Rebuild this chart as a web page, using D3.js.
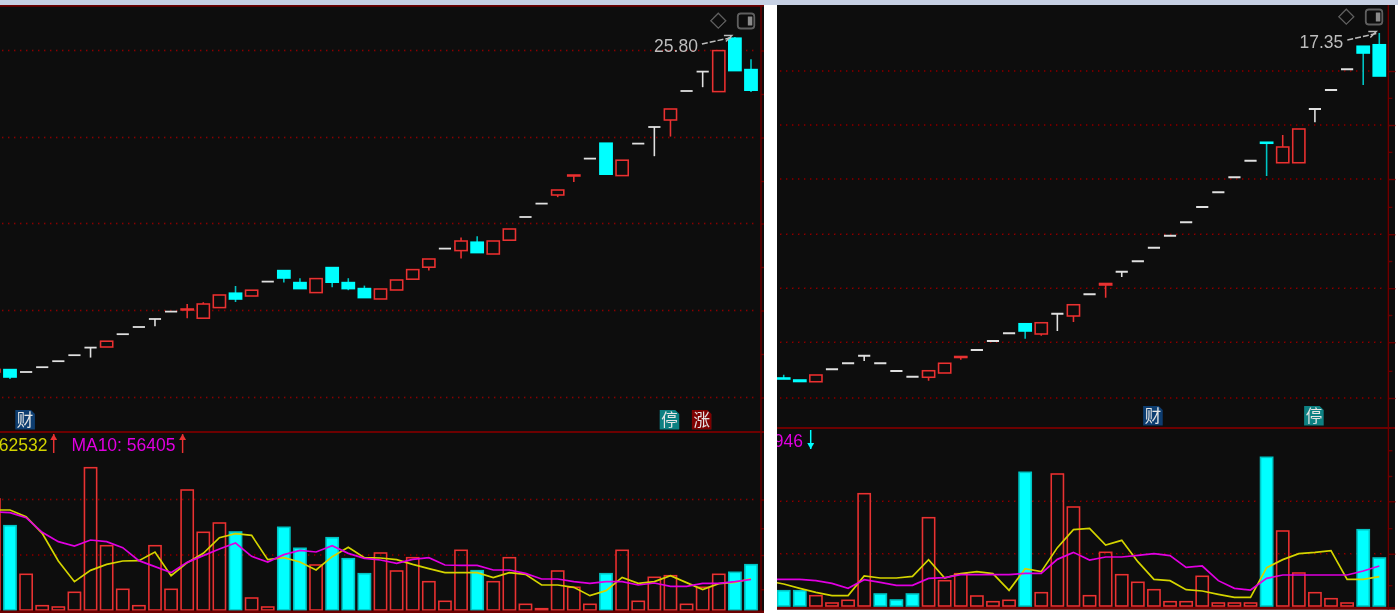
<!DOCTYPE html>
<html>
<head>
<meta charset="utf-8">
<script src="https://cdn.jsdelivr.net/npm/d3@7"></script>
<style>
  html, body { margin: 0; padding: 0; background: #fff; overflow: hidden; }
  svg { display: block; }
</style>
</head>
<body>
<div id="chart"></div>
<script>
const W = 1398, H = 613;

// left chart, days -1 .. 46
const leftOpen = [9.05,9.17,9.05,9.29,9.59,9.89,10.27,10.30,10.94,11.30,11.70,12.07,12.15,11.74,12.27,12.99,12.85,13.57,14.12,13.52,13.02,14.27,13.52,13.22,12.70,13.15,13.69,14.29,15.22,15.12,15.54,14.95,15.64,16.80,17.47,17.90,18.85,19.72,20.49,18.87,20.47,21.30,21.65,23.10,24.07,23.07,25.74,24.17];
const leftClose = [9.18,8.80,9.05,9.29,9.59,9.89,10.27,10.59,10.94,11.30,11.70,12.07,12.20,12.45,12.90,12.70,13.14,13.57,13.75,13.22,13.72,13.54,13.22,12.77,13.20,13.65,14.17,14.70,15.22,15.60,15.02,15.60,16.20,16.80,17.47,18.15,18.90,19.72,18.94,19.64,20.47,21.30,22.20,23.10,24.07,25.12,24.12,23.14];
const leftHigh = [9.18,9.17,9.05,9.29,9.59,9.89,10.27,10.59,10.94,11.30,11.70,12.07,12.45,12.54,12.90,13.35,13.14,13.57,14.12,13.74,13.72,14.27,13.74,13.37,13.20,13.65,14.17,14.70,15.22,15.77,15.84,15.60,16.20,16.80,17.47,18.15,18.90,19.72,20.49,19.64,20.47,21.30,22.20,23.10,24.07,25.12,25.80,24.69];
const leftLow = [9.05,8.70,9.05,9.29,9.59,9.89,9.77,10.30,10.94,11.30,11.34,12.07,11.74,11.74,12.27,12.55,12.85,13.57,13.52,13.22,13.02,13.29,13.14,12.77,12.70,13.15,13.69,14.12,15.22,14.72,15.02,14.95,15.64,16.80,17.47,17.79,18.55,19.72,18.94,18.87,20.47,19.84,20.82,23.10,23.29,23.07,24.12,23.05];
const leftVol = [222000,168600,71400,8600,6000,35400,284600,128600,41400,8600,128600,41400,240000,155400,174000,156000,24000,6000,165400,123400,90000,144600,102600,72600,114000,78000,104600,56600,17400,119400,78600,56600,104600,11400,2600,78000,45400,11400,72600,119400,17400,65400,68600,11400,45400,71400,75400,90600];
const leftMa5 = [200000,200000,186700,153300,98000,56700,79300,91300,98000,98700,116000,68700,94700,113300,144700,152700,149300,100700,104700,96000,80000,106700,125300,104700,104000,100700,91300,82700,74700,74700,74700,64700,74700,71300,50000,50000,45300,28700,38700,65300,53300,56700,68700,54700,40700,52700,55300,62532];
const leftMa10 = [196700,194700,184700,155300,136700,128000,140000,136700,124700,98700,86700,74700,95300,108700,122000,134000,107300,96000,110700,119300,116000,128700,113300,103300,100000,93300,101300,104700,90000,89300,89300,80000,80000,73300,62000,62000,56700,53300,56700,56700,50000,54000,47300,47300,53300,53300,56700,61000];

// right chart, days 0 .. 37 (the average lines start one day earlier)
const rightOpen = [3.55,3.47,3.40,3.90,4.14,4.44,4.14,3.83,3.60,3.58,3.75,4.37,4.67,5.03,5.34,5.72,5.31,6.12,6.03,6.90,7.27,7.80,8.22,8.76,9.24,9.78,10.39,10.98,11.58,12.24,12.98,12.16,12.16,14.31,15.07,15.90,16.82,16.88];
const rightClose = [3.51,3.41,3.67,3.90,4.14,4.44,4.14,3.83,3.60,3.84,4.14,4.41,4.67,5.03,5.34,5.43,5.76,6.12,6.48,6.90,7.33,7.80,8.22,8.76,9.24,9.78,10.39,10.98,11.58,12.24,12.94,12.79,13.51,14.31,15.07,15.90,16.55,15.63];
const rightHigh = [3.68,3.47,3.67,3.90,4.14,4.44,4.14,3.83,3.60,3.84,4.14,4.41,4.67,5.03,5.34,5.72,5.76,6.12,6.48,6.90,7.33,7.80,8.22,8.76,9.24,9.78,10.39,10.98,11.58,12.24,12.98,13.27,13.51,14.31,15.07,15.90,16.82,17.35];
const rightLow = [3.51,3.41,3.40,3.90,4.14,4.23,4.14,3.83,3.60,3.44,3.75,4.28,4.67,5.03,5.34,5.12,5.24,5.43,5.79,6.90,6.76,7.59,8.22,8.76,9.24,9.78,10.39,10.98,11.58,12.24,11.63,12.16,12.16,13.78,15.07,15.90,15.27,15.63];
const rightVol = [30600,30600,20600,6000,11400,224600,24000,12000,24000,176600,50600,64600,20000,8600,11400,267400,26600,264000,198000,20600,107400,62600,47400,32600,8600,8600,59400,6000,6000,6000,297400,150000,66000,26600,14600,6000,152600,96000];
const rightMa5 = [50000,44000,35300,27300,20700,20700,60000,56000,56000,59300,92700,56000,64700,68700,64700,31300,74700,68700,116700,152700,155300,122000,131300,88700,53300,50700,32700,30000,23300,17300,17300,76700,92700,104700,107300,110700,53300,53300,58700];
const rightMa10 = [53300,53300,53300,50700,45300,35300,52700,47300,41300,41300,55300,56700,62700,62700,62700,62700,65300,65300,93300,107300,92000,98000,98000,101300,104700,100700,77300,80000,50700,35300,32000,55300,62000,62000,62000,62000,62000,70000,80000];

// gridline and tick levels
const leftPriceGrid = [25.125,20.775,16.475,12.125,7.775];
const leftPriceMinor = [22.95,18.6,14.3,9.95];
const leftVolGrid = [221000,110000];
const leftVolMinor = [163400,41400];
const rightPriceGrid = [15.83,13.67,11.51,9.30,7.14,4.98,2.75];
const rightPriceMinor = [14.76,12.60,10.40,8.23,6.07,3.84];
const rightVolGrid = [209400,104600];
const rightVolMinor = [311400,260000,155400,41400];

const RED = "#e83030", CYAN = "#00ffff", TEAL = "#00c4c4", WHITE = "#e0e0e0",
      GRID = "#8a0000", FRAME = "#6c0000", YELLOW = "#d4d400", MAGENTA = "#e000e0",
      BG = "#0b0b0b", ICON = "#5f5f5f", NOTE = "#bdbdbd";

const svg = d3.select("#chart").append("svg")
  .attr("width", W)
  .attr("height", H)
  .style("font-family", "'Liberation Sans', sans-serif");

const defs = svg.append("defs");

// the source is a slightly resampled screenshot, so everything is a touch soft
defs.append("filter")
  .attr("id", "soft")
  .attr("filterUnits", "userSpaceOnUse")
  .attr("x", 0).attr("y", 0)
  .attr("width", W).attr("height", H)
  .append("feGaussianBlur")
  .attr("stdDeviation", 0.3);

const root = svg.append("g").attr("filter", "url(#soft)");

root.append("rect").attr("width", W).attr("height", H).attr("fill", "#fff");
root.append("rect").attr("width", W).attr("height", 5).attr("fill", "#c6d0e3");

function drawPanel(p) {
  const candles = p.open.map((o, i) => ({
    day: p.firstDay + i,
    open: o, close: p.close[i], high: p.high[i], low: p.low[i], vol: p.vol[i],
    prev: i > 0 ? p.close[i - 1] : o
  }));

  const x = d3.scaleLinear().domain(p.days).range(p.xRange);
  const yPrice = d3.scaleLinear().domain(p.priceDomain).range([p.split, 6]);
  const yVol = d3.scaleLinear().domain([0, (p.base - p.split) * 2000]).range([p.base, p.split]);

  const clipId = "clip-" + p.name;
  defs.append("clipPath").attr("id", clipId).append("rect")
    .attr("x", p.left).attr("y", 5)
    .attr("width", p.frameX - p.left).attr("height", H - 5);

  root.append("rect")
    .attr("x", p.left).attr("y", 5)
    .attr("width", p.right - p.left).attr("height", p.bottom - 5)
    .attr("fill", BG);

  const g = root.append("g").attr("clip-path", `url(#${clipId})`);

  // dotted gridlines
  const gridLine = (sel, scale, values) => sel.selectAll(null)
    .data(values)
    .enter()
    .append("line")
    .attr("x1", p.gridRange[0])
    .attr("x2", p.gridRange[1])
    .attr("y1", d => scale(d))
    .attr("y2", d => scale(d))
    .attr("stroke", GRID)
    .attr("stroke-width", 1.5)
    .attr("stroke-dasharray", "1.5 4.5");

  gridLine(g.append("g"), yPrice, p.priceGrid);
  gridLine(g.append("g"), yVol, p.volGrid);

  // candles
  const bodyW = 12.2;
  const isUp = d => d.close > d.open;
  const isDown = d => d.close < d.open;
  const candleColor = d => isUp(d) ? RED : isDown(d) ? TEAL : WHITE;

  const candle = g.append("g").selectAll("g")
    .data(candles)
    .enter()
    .append("g");

  candle.filter(d => d.high > d.low)
    .append("line")
    .attr("x1", d => x(d.day))
    .attr("x2", d => x(d.day))
    .attr("y1", d => yPrice(d.high))
    .attr("y2", d => yPrice(d.low))
    .attr("stroke", candleColor)
    .attr("stroke-width", 1.6);

  candle.filter(d => d.open !== d.close)
    .append("rect")
    .attr("x", d => x(d.day) - bodyW / 2)
    .attr("y", d => yPrice(Math.max(d.open, d.close)))
    .attr("width", bodyW)
    .attr("height", d => Math.abs(yPrice(d.open) - yPrice(d.close)))
    .attr("fill", d => isDown(d) ? CYAN : BG)
    .attr("stroke", d => isDown(d) ? CYAN : RED)
    .attr("stroke-width", 1.6);

  candle.filter(d => d.open === d.close)
    .append("line")
    .attr("x1", d => x(d.day) - bodyW / 2)
    .attr("x2", d => x(d.day) + bodyW / 2)
    .attr("y1", d => yPrice(d.close))
    .attr("y2", d => yPrice(d.close))
    .attr("stroke", WHITE)
    .attr("stroke-width", 1.8);

  // volume bars
  const volDown = d => isDown(d) || (d.open === d.close && d.close < d.prev);

  g.append("g").selectAll("rect")
    .data(candles)
    .enter()
    .append("rect")
    .attr("x", d => x(d.day) - bodyW / 2)
    .attr("y", d => yVol(d.vol))
    .attr("width", bodyW)
    .attr("height", d => yVol(0) - yVol(d.vol))
    .attr("fill", d => volDown(d) ? CYAN : "none")
    .attr("stroke", d => volDown(d) ? TEAL : RED)
    .attr("stroke-width", 1.6);

  // average lines
  const maLine = d3.line()
    .x((d, i) => x(p.maFirstDay + i))
    .y(d => yVol(d));

  [[p.ma5, YELLOW], [p.ma10, MAGENTA]].forEach(([values, color]) => {
    g.append("path")
      .datum(values)
      .attr("fill", "none")
      .attr("stroke", color)
      .attr("stroke-width", 1.7)
      .attr("d", maLine);
  });

  // event badges
  p.badges.forEach(b => {
    const cx = x(b.day) - 1, top = p.badgeTop, s = 19.6;
    g.append("path")
      .attr("d", `M${cx - s / 2},${top}H${cx + s / 2 - 4}L${cx + s / 2},${top + 4}V${top + s}H${cx - s / 2}Z`)
      .attr("fill", b.color);
    g.append("text")
      .attr("x", cx)
      .attr("y", top + 16)
      .attr("text-anchor", "middle")
      .style("font-family", "'Noto Sans CJK SC', sans-serif")
      .style("font-size", "16.5px")
      .attr("fill", "#e4e4e4")
      .text(b.label);
  });

  // value labels above the volume pane
  p.volLabels.forEach(l => {
    g.append("text")
      .attr("x", l.x)
      .attr("y", p.labelY)
      .attr("text-anchor", "end")
      .style("font-size", "17.5px")
      .attr("fill", l.color)
      .text(l.text);
  });

  p.arrows.forEach(a => {
    const tip = a.up ? a.y1 : a.y2;
    const dir = a.up ? 1 : -1;
    g.append("line")
      .attr("x1", a.x).attr("x2", a.x)
      .attr("y1", a.y1).attr("y2", a.y2)
      .attr("stroke", a.color)
      .attr("stroke-width", 1.5);
    g.append("path")
      .attr("d", `M${a.x},${tip}L${a.x + 3.5},${tip + dir * 6}H${a.x - 3.5}Z`)
      .attr("fill", a.color);
  });

  // high price note with dashed arrow
  const hx = x(p.highDay), hy = yPrice(p.highValue);
  g.append("text")
    .attr("x", hx + p.note.textDx)
    .attr("y", hy + p.note.textDy)
    .attr("text-anchor", "end")
    .style("font-size", "17.5px")
    .attr("fill", NOTE)
    .text(d3.format(".2f")(p.highValue));
  g.append("line")
    .attr("x1", hx + p.note.textDx + 4)
    .attr("y1", hy + 7)
    .attr("x2", hx + p.note.tipDx)
    .attr("y2", hy + 0.5)
    .attr("stroke", NOTE)
    .attr("stroke-width", 1.5)
    .attr("stroke-dasharray", "6 2");
  g.append("path")
    .attr("d", `M${hx + p.note.tipDx - 8},${hy - 1.5}H${hx + p.note.tipDx}L${hx + p.note.tipDx - 6},${hy + 4.5}`)
    .attr("fill", "none")
    .attr("stroke", NOTE)
    .attr("stroke-width", 1.4);

  // corner icons
  const dm = p.diamond;
  g.append("path")
    .attr("d", `M${dm.x},${dm.y - 7.5}L${dm.x + 7.5},${dm.y}L${dm.x},${dm.y + 7.5}L${dm.x - 7.5},${dm.y}Z`)
    .attr("fill", "none")
    .attr("stroke", ICON)
    .attr("stroke-width", 1.3);
  g.append("rect")
    .attr("x", p.toggle.x).attr("y", p.toggle.y)
    .attr("width", 16.5).attr("height", 15)
    .attr("rx", 3)
    .attr("fill", "none")
    .attr("stroke", ICON)
    .attr("stroke-width", 1.8);
  g.append("rect")
    .attr("x", p.toggle.x + 10).attr("y", p.toggle.y + 3)
    .attr("width", 4.5).attr("height", 9)
    .attr("fill", "#8a8a8a");

  // frame and right-hand tick axes
  const frameAxis = (scale, major, minor, y0, y1) => {
    const ax = root.append("g").attr("transform", `translate(${p.frameX},0)`);
    ax.append("line").attr("y1", y0).attr("y2", y1).attr("stroke", FRAME).attr("stroke-width", 1.5);
    [[major, p.majorTick], [minor, p.minorTick]].forEach(([values, size]) => {
      ax.append("g")
        .call(d3.axisRight(scale).tickValues(values).tickSize(size).tickSizeOuter(0).tickFormat(""))
        .call(a => a.select(".domain").remove())
        .call(a => a.selectAll(".tick line").attr("stroke", FRAME).attr("stroke-width", 1.4));
    });
  };
  frameAxis(yPrice, p.priceGrid, p.priceMinor, 5, p.split);
  frameAxis(yVol, p.volGrid, p.volMinor, p.split, p.bottom);

  root.append("line")
    .attr("x1", p.left).attr("x2", p.right)
    .attr("y1", p.split).attr("y2", p.split)
    .attr("stroke", FRAME).attr("stroke-width", 2);
  root.append("line")
    .attr("x1", p.left).attr("x2", p.right)
    .attr("y1", p.bottomLine).attr("y2", p.bottomLine)
    .attr("stroke", FRAME).attr("stroke-width", 2.6);
  if (p.topLine) {
    root.append("line")
      .attr("x1", p.left).attr("x2", p.right)
      .attr("y1", 5.8).attr("y2", 5.8)
      .attr("stroke", FRAME).attr("stroke-width", 1.8);
  }
}

drawPanel({
  name: "left",
  open: leftOpen, close: leftClose, high: leftHigh, low: leftLow, vol: leftVol,
  ma5: leftMa5, ma10: leftMa10,
  firstDay: -1, maFirstDay: -1,
  days: [-1, 46], xRange: [-6.11, 751],
  priceDomain: [6.05, 27.35],
  split: 432, base: 610, bottom: 613, bottomLine: 611.8,
  left: 0, right: 764, frameX: 761,
  gridRange: [2, 755],
  priceGrid: leftPriceGrid, priceMinor: leftPriceMinor,
  volGrid: leftVolGrid, volMinor: leftVolMinor,
  majorTick: 3, minorTick: 3,
  topLine: true,
  badgeTop: 410,
  badges: [
    { day: 1, label: "财", color: "#0a3e70" },
    { day: 41, label: "停", color: "#0a8082" },
    { day: 43, label: "涨", color: "#7e0606" }
  ],
  labelY: 451,
  volLabels: [
    { x: 47.5, text: "62532", color: YELLOW },
    { x: 175.5, text: "MA10: 56405", color: MAGENTA }
  ],
  arrows: [
    { x: 53.7, y1: 434, y2: 453, up: true, color: RED },
    { x: 182.6, y1: 434, y2: 453, up: true, color: RED }
  ],
  highDay: 45, highValue: 25.80,
  note: { textDx: -37, textDy: 15, tipDx: -3 },
  diamond: { x: 718.3, y: 20.7 },
  toggle: { x: 737.8, y: 13.5 }
});

drawPanel({
  name: "right",
  open: rightOpen, close: rightClose, high: rightHigh, low: rightLow, vol: rightVol,
  ma5: rightMa5, ma10: rightMa10,
  firstDay: 0, maFirstDay: -1,
  days: [0, 37], xRange: [783.7, 1379.3],
  priceDomain: [1.55, 18.43],
  split: 428, base: 606, bottom: 609.5, bottomLine: 608.2,
  left: 777, right: 1395, frameX: 1388.3,
  gridRange: [780, 1382],
  priceGrid: rightPriceGrid, priceMinor: rightPriceMinor,
  volGrid: rightVolGrid, volMinor: rightVolMinor,
  majorTick: 7, minorTick: 4,
  topLine: false,
  badgeTop: 406,
  badges: [
    { day: 23, label: "财", color: "#0a3e70" },
    { day: 33, label: "停", color: "#0a8082" }
  ],
  labelY: 446.7,
  volLabels: [
    { x: 803, text: "946", color: MAGENTA }
  ],
  arrows: [
    { x: 810.7, y1: 430, y2: 449, up: false, color: CYAN }
  ],
  highDay: 37, highValue: 17.35,
  note: { textDx: -36, textDy: 15, tipDx: -3 },
  diamond: { x: 1346.3, y: 16.7 },
  toggle: { x: 1365.8, y: 9.5 }
});
</script>
</body>
</html>
